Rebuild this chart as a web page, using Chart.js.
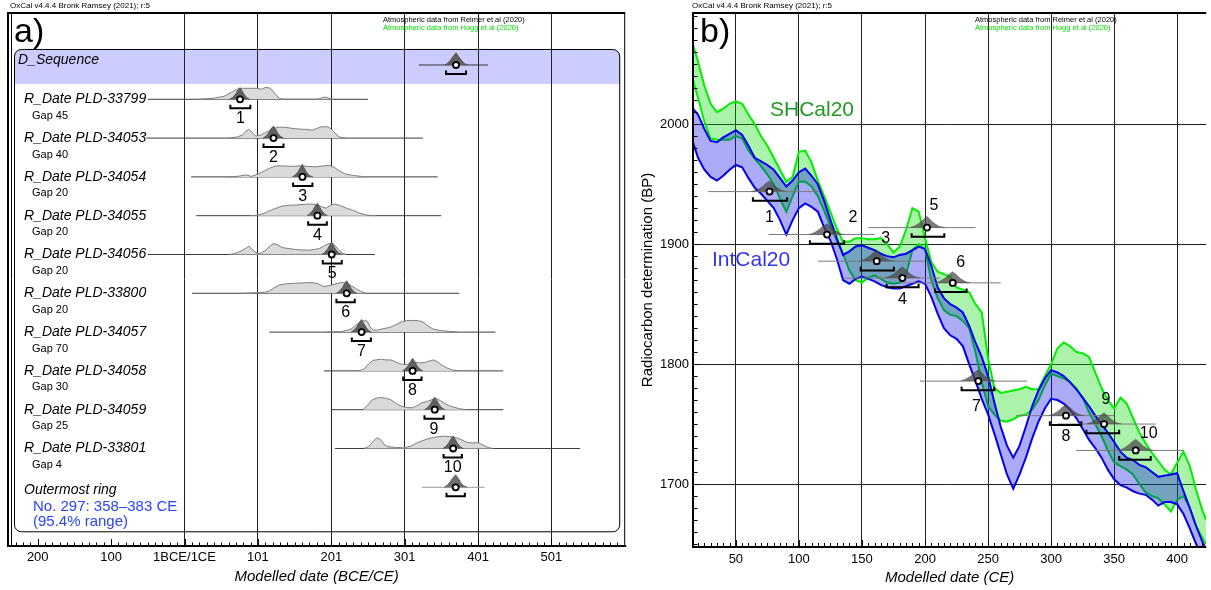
<!DOCTYPE html>
<html><head><meta charset="utf-8">
<script src="https://cdn.jsdelivr.net/npm/chart.js@4.4.1/dist/chart.umd.min.js"></script>
<style>
html,body{margin:0;padding:0;background:#fff;overflow:hidden;width:1211px;height:590px}
#ca{position:absolute;left:0;top:0}
#cb{position:absolute;left:630px;top:0}
</style></head><body>
<canvas id="ca" width="630" height="590"></canvas>
<canvas id="cb" width="581" height="590"></canvas>
<script>
// ================= Panel a) data =================
const rowNames = ['R_Date PLD-33799','R_Date PLD-34053','R_Date PLD-34054','R_Date PLD-34055','R_Date PLD-34056',
                  'R_Date PLD-33800','R_Date PLD-34057','R_Date PLD-34058','R_Date PLD-34059','R_Date PLD-33801'];
const gapLabels = ['Gap 45','Gap 40','Gap 20','Gap 20','Gap 20','Gap 20','Gap 70','Gap 30','Gap 25','Gap 4'];

// likelihoods [calendar year CE, relative probability]
const lik1 = [[20,0],[40,1],[55,3],[65,7],[72,10],[80,11],[90,11],[100,11],[106,10],[112,12],[118,11],[124,6],[130,1],[136,0],[182,0],[188,1.5],[193,2.2],[198,1],[203,0]];
const lik2 = [[62,0],[72,1],[80,3],[85,7],[89,8.7],[94,5],[98,2],[105,3],[110,5],[116,7],[122,9.5],[130,11],[139,10.7],[152,9.3],[166,8.7],[175,8],[181,9.5],[187,11.3],[196,11.3],[200,9.5],[205,6],[211,1.3],[220,0]];
const lik3 = [[60,0],[75,0.7],[85,2],[92,0.5],[100,2.5],[110,6],[118,9],[126,11],[135,11],[148,10.5],[160,11],[170,10.5],[180,10],[190,11],[198,11.5],[205,9.5],[212,6],[220,3],[230,1.5],[248,0]];
const lik4 = [[90,0],[100,0.5],[108,2],[116,4.5],[124,7],[134,9.7],[145,10.5],[153,10.7],[165,11.3],[172,11.7],[180,11],[188,9],[194,7.5],[200,10.5],[205,11.7],[212,10.5],[222,7.5],[230,5.5],[240,2.5],[250,0.5],[262,0]];
const lik5 = [[62,0],[70,1],[78,3.5],[84,6],[89,8.3],[94,4.5],[100,1],[106,1.5],[112,4.5],[118,9],[123,11],[128,9.5],[134,7],[142,6],[152,5],[162,4.5],[171,4.3],[178,5],[185,6],[192,9],[198,11],[205,10],[211,4.5],[216,1.5],[221,0]];
const lik6 = [[80,0],[95,0.5],[110,1],[116,2],[122,5],[130,8.3],[140,9.5],[152,10],[165,10.5],[175,10.7],[183,9.5],[191,6.7],[197,7.5],[203,8.5],[210,10],[216,11],[225,9],[234,5],[241,2],[248,0]];
const lik7 = [[195,0],[215,0.5],[228,3],[235,7],[240,10],[246,11.5],[250,11],[254,5],[258,2],[264,2],[272,3.5],[280,4.5],[288,7],[296,10],[304,11.5],[312,11.7],[320,11.3],[326,10],[333,6],[340,3],[350,1.5],[362,0.7],[372,0]];
const lik8 = [[238,0],[246,2],[252,7],[258,10.5],[268,11.7],[275,11],[282,11],[290,8.5],[298,6.5],[305,6.5],[312,9],[320,8],[328,8.3],[335,10],[340,11],[346,9],[352,5.5],[360,2.5],[366,1],[375,0]];
const lik9 = [[244,0],[250,4],[256,9.5],[262,11.5],[268,12.3],[275,11.5],[282,10],[290,6],[297,3.3],[305,2],[312,2],[318,4],[324,6.7],[332,8.3],[338,10],[344,11],[350,9],[356,6],[362,4],[368,2.5],[376,1],[384,0]];
const lik10 = [[246,0],[252,2],[258,7],[263,10.7],[268,9],[273,4],[278,1.7],[290,1],[300,0.7],[310,2.5],[318,5.7],[326,8],[334,10],[340,11],[348,12],[355,12.3],[362,12],[370,11],[378,9],[386,6],[394,5.5],[400,6],[404,5],[410,2.5],[416,0.7],[422,0]];

// modelled (posterior) distributions [calendar year CE, relative probability]
const post1 = [[62,0],[67,2],[71,5.5],[74,9.5],[76.7,11.7],[79,9],[82,5],[86,1.5],[90,0]];
const post2 = [[108,0],[112,2],[116,5.5],[119,9.5],[122.3,12],[125,9],[128,5],[132,1.5],[136,0]];
const post3 = [[148,0],[152,2],[156,5.5],[159,9.5],[161.7,12.5],[164,9],[167,5],[171,1.5],[176,0]];
const post4 = [[168,0],[172,2],[176,5.5],[179,9.5],[182.1,12.5],[185,9],[188,5],[192,1.5],[196,0]];
const post5 = [[188,0],[192,2],[196,5.5],[199,9.5],[201.6,12.5],[204,9],[207,5],[211,1.5],[216,0]];
const post6 = [[208,0],[212,2],[216,5.5],[219,9.5],[222,12.5],[225,9],[228,5],[232,1.5],[236,0]];
const post7 = [[228,0],[232,2],[236,5.5],[239,9.5],[242.3,12.5],[245,9],[248,5],[252,1.5],[256,0]];
const post8 = [[298,0],[302,2],[306,5.5],[309,9.5],[311.8,12.5],[315,9],[318,5],[322,1.5],[326,0]];
const post9 = [[328,0],[332,2],[336,5.5],[339,9.5],[342,12.5],[345,9],[348,5],[352,1.5],[356,0]];
const post10 = [[353,0],[357,2],[361,5.5],[364,9.5],[367.1,12.5],[370,9],[373,5],[377,1.5],[381,0]];
const postOuter = [[355,0],[359,2],[363,5.5],[367,9.5],[370.5,12.5],[374,9],[377,5],[381,1.5],[386,0]];
const postSeq = [[356,0],[360,2],[364,5.5],[368,9.5],[371,12],[374,9],[378,5],[382,1.5],[387,0]];

const meanYears    = [76.7,122.3,161.7,182.1,201.6,222,242.3,311.8,342,367.1];
const range95Start = [63.5,108.7,149,169.5,189.4,208,229,299,328,354];
const range95End   = [90.7,135.9,175.3,194.9,215.3,233,255,324,354,379];
const fullStart    = [-49,-51,10,16.9,-49,11.2,116.5,191,200.7,206];
const fullEnd      = [251,325.7,346,350.6,260.5,375.3,424.6,435.4,435.4,540.1];
const outerStats = [370.5, 358, 383, 324.4, 410];   // mean, 95% from, 95% to, full from, full to
const seqStats   = [371, 357.4, 384.6, 320.3, 414.5];

const leftTickValues = [-199,-99,1,101,201,301,401,501];
const leftTickLabels = ['200','100','1BCE/1CE','101','201','301','401','501'];

// ================= Panel b) data =================
const curveYears = [15,20,25,30,35,40,45,50,55,60,65,70,75,80,85,90,95,100,105,110,115,120,125,130,135,140,145,150,155,160,165,170,175,180,185,190,195,200,205,210,215,220,225,230,235,240,245,250,255,260,265,270,275,280,285,290,295,300,305,310,315,320,325,330,335,340,345,350,355,360,365,370,375,380,385,390,395,400,405,410,415,420,423];
const intcalUpper = [2014,2008,1996,1986,1985,1989,1992,1995,1991,1982,1972,1969,1966,1962,1955,1948,1953,1960,1963,1957,1950,1936,1920,1905,1891,1894,1898,1899,1897,1895,1892,1890,1889,1891,1892,1895,1898,1896,1882,1864,1855,1850,1847,1843,1832,1818,1806,1790,1768,1748,1732,1722,1732,1748,1765,1778,1788,1795,1793,1790,1785,1779,1772,1765,1757,1750,1743,1735,1727,1722,1720,1716,1714,1710,1706,1707,1708,1709,1694,1680,1665,1652,1645];
const intcalLower = [1988,1972,1962,1956,1953,1957,1962,1966,1964,1955,1947,1942,1936,1930,1920,1908,1920,1930,1934,1931,1927,1914,1903,1888,1870,1867,1871,1873,1871,1869,1866,1864,1863,1863,1865,1867,1869,1867,1856,1842,1830,1824,1821,1815,1800,1786,1771,1758,1742,1725,1708,1696,1708,1722,1738,1752,1763,1771,1770,1767,1762,1755,1746,1737,1730,1722,1712,1704,1699,1697,1694,1692,1691,1687,1682,1685,1685,1683,1675,1663,1650,1640,1633];
const shcalUpper = [2070,2052,2032,2017,2010,2013,2017,2019,2017,2008,2000,1990,1982,1972,1962,1952,1956,1977,1978,1968,1953,1940,1927,1913,1902,1902,1905,1905,1904,1904,1905,1900,1893,1898,1912,1930,1927,1905,1885,1877,1875,1873,1864,1862,1860,1850,1843,1805,1780,1776,1777,1778,1779,1781,1779,1779,1790,1800,1813,1818,1815,1810,1809,1806,1793,1780,1770,1763,1772,1767,1755,1743,1734,1726,1719,1712,1708,1718,1727,1715,1695,1678,1670];
const shcalLower = [2040,2022,2002,1988,1987,1987,1987,1990,1988,1978,1971,1965,1958,1950,1938,1927,1940,1952,1952,1948,1940,1928,1915,1903,1892,1878,1870,1868,1872,1874,1871,1868,1867,1868,1875,1895,1900,1896,1870,1855,1845,1841,1840,1836,1830,1810,1785,1765,1758,1753,1752,1754,1757,1758,1762,1770,1782,1792,1790,1788,1785,1780,1772,1760,1750,1740,1728,1718,1715,1712,1708,1700,1693,1690,1688,1683,1677,1687,1690,1680,1665,1655,1650];

const rcBP        = [1943.8,1908,1885.8,1871.7,1913.8,1867.7,1785.8,1757,1750,1728];
const rcLineStart = [28,76,115,135,155,180,196,272,305,320];
const rcLineEnd   = [116,160,200,212,240,260,281,350,383,405];
const rightTickX = [50,100,150,200,250,300,350,400];
const rightTickY = [1700,1800,1900,2000];

// ================= styling / layout =================
const FONT = '"Liberation Sans", Arial, Helvetica, sans-serif';
const liks = [lik1,lik2,lik3,lik4,lik5,lik6,lik7,lik8,lik9,lik10];
const posts = [post1,post2,post3,post4,post5,post6,post7,post8,post9,post10];
const ROWPX = 38.8;          // pixels per row (left panel)
const KL = 1/ROWPX;          // row units per density unit
const SEQ_ROW = 0.116, OUTER_ROW = 11;
const rightLabelOffsets = [[0,26],[26,-17],[9,-23],[0,22],[7,-22],[8,-20],[-2,25],[0,21],[2,-24],[13,-17]];

function ln(points, color, width, order, extra) {
  return Object.assign({data: points, borderColor: color, borderWidth: width, pointRadius: 0, pointHoverRadius: 0,
    fill: false, tension: 0, order: order}, extra || {});
}
function dot(x, y, order) {
  return {data: [{x: x, y: y}], showLine: false, pointRadius: 3, pointHoverRadius: 3, pointBackgroundColor: '#fff',
    pointBorderColor: '#000', pointBorderWidth: 1.8, order: order};
}

// ---------- left datasets ----------
const leftDatasets = [];
function addLeftRow(row, lik, post, st, postFill, lineCol) {
  const [mean, b0, b1, f0, f1] = st;
  leftDatasets.push(ln([{x: f0, y: row}, {x: f1, y: row}], lineCol, 1, 7));
  if (lik) leftDatasets.push(ln(lik.map(p => ({x: p[0], y: row - p[1]*KL})), '#7e7e7e', 1, 6,
      {fill: {value: row}, backgroundColor: '#dadada'}));
  leftDatasets.push(ln(post.map(p => ({x: p[0], y: row - p[1]*KL})), '#4a4a4a', 0.8, 5,
      {fill: {value: row}, backgroundColor: postFill}));
  const by = row + 9*KL, bt = row + 5.5*KL;
  leftDatasets.push(ln([{x: b0, y: bt}, {x: b0, y: by}, {x: b1, y: by}, {x: b1, y: bt}], '#000', 2, 4));
  leftDatasets.push(dot(mean, row, 3));
}
addLeftRow(SEQ_ROW, null, postSeq, seqStats, '#606060', '#333');
for (let k = 0; k < 10; k++) {
  addLeftRow(k+1, liks[k], posts[k], [meanYears[k], range95Start[k], range95End[k], fullStart[k], fullEnd[k]], '#606060', '#3c3c3c');
}
addLeftRow(OUTER_ROW, null, postOuter, outerStats, '#707070', '#9a9a9a');

const leftPlugin = {
  id: 'leftDeco',
  beforeDraw(chart) {
    const ctx = chart.ctx, ca = chart.chartArea, ys = chart.scales.y;
    const top = ys.getPixelForValue(SEQ_ROW) - 16, bandBot = ys.getPixelForValue(SEQ_ROW) + 19;
    ctx.save();
    ctx.fillStyle = '#ccccff';
    ctx.beginPath();
    ctx.roundRect(ca.left + 6, top, ca.right - ca.left - 11, bandBot - top, [7, 7, 0, 0]);
    ctx.fill();
    ctx.restore();
  },
  afterDraw(chart) {
    const ctx = chart.ctx, ca = chart.chartArea, xs = chart.scales.x, ys = chart.scales.y;
    ctx.save();
    // group box
    const top = ys.getPixelForValue(SEQ_ROW) - 16;
    const bot = ys.getPixelForValue(OUTER_ROW) + 44;
    ctx.strokeStyle = '#000'; ctx.lineWidth = 1;
    ctx.beginPath(); ctx.roundRect(ca.left + 6.5, top + 0.5, ca.right - ca.left - 12, bot - top, 7); ctx.stroke();
    // frame
    ctx.lineWidth = 2;
    ctx.beginPath();
    ctx.moveTo(ca.left, ca.bottom); ctx.lineTo(ca.left, ca.top); ctx.lineTo(ca.right, ca.top);
    ctx.moveTo(ca.left - 1, ca.bottom); ctx.lineTo(ca.right + 1, ca.bottom);
    ctx.stroke();
    ctx.lineWidth = 1;
    ctx.beginPath(); ctx.moveTo(ca.left + 3.5, ca.top); ctx.lineTo(ca.left + 3.5, ca.bottom);
    ctx.moveTo(ca.right - 0.5, ca.top); ctx.lineTo(ca.right - 0.5, ca.bottom); ctx.stroke();
    // ticks every 10 years, major every 100
    ctx.beginPath();
    for (let v = -229; v <= 601; v += 10) {
      const x = Math.round(xs.getPixelForValue(v)) + 0.5;
      if (x <= ca.left + 2 || x >= ca.right) continue;
      const major = leftTickValues.includes(v);
      ctx.moveTo(x, ca.bottom); ctx.lineTo(x, ca.bottom - (major ? 7 : 3.5));
    }
    ctx.stroke();
    // header texts
    ctx.fillStyle = '#000'; ctx.textBaseline = 'middle'; ctx.textAlign = 'left';
    ctx.font = '8px ' + FONT;
    ctx.fillText('OxCal v4.4.4 Bronk Ramsey (2021); r:5', 10, 6);
    ctx.font = '7.5px ' + FONT;
    ctx.fillText('Atmospheric data from Reimer et al (2020)', 383, 20);
    ctx.fillStyle = '#00dd00';
    ctx.fillText('Atmospheric data from Hogg et al (2020)', 383, 27.5);
    ctx.fillStyle = '#000';
    ctx.textBaseline = 'alphabetic';
    ctx.font = '34px ' + FONT;
    ctx.fillText('a)', 14, 42);
    ctx.textBaseline = 'middle';
    ctx.font = 'italic 14px ' + FONT;
    ctx.fillText('D_Sequence', 18, ys.getPixelForValue(SEQ_ROW) - 5);
    for (let k = 0; k < 10; k++) {
      const y = ys.getPixelForValue(k + 1);
      ctx.textAlign = 'left';
      ctx.font = 'italic 14px ' + FONT;
      ctx.fillText(rowNames[k], 24, y);
      ctx.font = '11px ' + FONT;
      ctx.fillText(gapLabels[k], 32, y + 16.5);
      ctx.textAlign = 'center';
      ctx.font = '16px ' + FONT;
      ctx.fillText(String(k + 1), xs.getPixelForValue((range95Start[k] + range95End[k]) / 2), y + 19.5);
    }
    const yo = ys.getPixelForValue(OUTER_ROW);
    ctx.textAlign = 'left';
    ctx.font = 'italic 14px ' + FONT;
    ctx.fillText('Outermost ring', 24, yo + 3);
    ctx.fillStyle = '#2a44ff';
    ctx.font = '15px ' + FONT;
    ctx.fillText('No. 297: 358\u2013383 CE', 33, yo + 20);
    ctx.fillText('(95.4% range)', 33, yo + 35);
    ctx.restore();
  }
};

new Chart(document.getElementById('ca'), {
  type: 'line',
  data: {datasets: leftDatasets},
  options: {
    responsive: false, animation: false, events: [],
    layout: {padding: {left: 8, top: 13, right: 3, bottom: 0}},
    plugins: {legend: {display: false}, tooltip: {enabled: false}},
    scales: {
      x: {type: 'linear', min: -239.5, max: 601.5,
        afterFit: s => { s.height = 44; },
        afterBuildTicks: s => { s.ticks = leftTickValues.map(v => ({value: v})); },
        ticks: {autoSkip: false, maxRotation: 0, padding: 4, color: '#000', font: {family: FONT, size: 13},
          callback: v => leftTickLabels[leftTickValues.indexOf(v)]},
        grid: {drawTicks: false, lineWidth: 1, color: c => (c.tick && c.tick.value >= 1) ? '#222' : 'rgba(0,0,0,0)'},
        border: {display: false},
        title: {display: true, text: 'Modelled date (BCE/CE)', color: '#000',
          font: {family: FONT, size: 15, style: 'italic'}, padding: {top: 0, bottom: 4}}
      },
      y: {type: 'linear', min: -1.224, max: 12.513, reverse: true, display: false}
    }
  },
  plugins: [leftPlugin]
});

// ---------- right datasets ----------
const KR = 0.75;  // BP units per density unit
const rightDatasets = [];
rightDatasets.push(ln(curveYears.map((y, i) => ({x: y, y: shcalUpper[i]})), '#00ee00', 2, 20));
rightDatasets.push(ln(curveYears.map((y, i) => ({x: y, y: shcalLower[i]})), '#00ee00', 2, 21,
  {fill: '-1', backgroundColor: 'rgba(0,220,0,0.33)'}));
rightDatasets.push(ln(curveYears.map((y, i) => ({x: y, y: intcalUpper[i]})), '#0000ee', 2, 18));
rightDatasets.push(ln(curveYears.map((y, i) => ({x: y, y: intcalLower[i]})), '#0000ee', 2, 19,
  {fill: '-1', backgroundColor: 'rgba(0,0,230,0.33)'}));
for (let k = 0; k < 10; k++) {
  const bp = rcBP[k];
  rightDatasets.push(ln([{x: rcLineStart[k], y: bp}, {x: rcLineEnd[k], y: bp}], '#7a7a7a', 1, 9));
  rightDatasets.push(ln(posts[k].map(p => ({x: p[0], y: bp + p[1]*KR})), 'rgba(60,60,60,0.6)', 0.6, 8,
    {fill: {value: bp}, backgroundColor: 'rgba(70,70,70,0.72)'}));
  const by = bp - 7.7, bt = bp - 4.7;
  rightDatasets.push(ln([{x: range95Start[k], y: bt}, {x: range95Start[k], y: by}, {x: range95End[k], y: by}, {x: range95End[k], y: bt}], '#000', 2, 7));
  rightDatasets.push(dot(meanYears[k], bp, 6));
}

const rightPlugin = {
  id: 'rightDeco',
  afterDraw(chart) {
    const ctx = chart.ctx, ca = chart.chartArea, xs = chart.scales.x, ys = chart.scales.y;
    ctx.save();
    ctx.strokeStyle = '#000';
    ctx.lineWidth = 2;
    ctx.beginPath();
    ctx.moveTo(ca.left, ca.bottom); ctx.lineTo(ca.left, ca.top); ctx.lineTo(ca.right, ca.top);
    ctx.moveTo(ca.left - 1, ca.bottom); ctx.lineTo(ca.right, ca.bottom);
    ctx.stroke();
    ctx.lineWidth = 1;
    ctx.beginPath();
    for (let v = 20; v <= 420; v += 5) {
      const x = Math.round(xs.getPixelForValue(v)) + 0.5;
      ctx.moveTo(x, ca.bottom); ctx.lineTo(x, ca.bottom - (v % 50 === 0 ? 7 : 4));
    }
    for (let v = 1650; v <= 2090; v += 10) {
      const y = Math.round(ys.getPixelForValue(v)) + 0.5;
      ctx.moveTo(ca.left, y); ctx.lineTo(ca.left + (v % 100 === 0 ? 7 : 4.5), y);
    }
    ctx.stroke();
    // header texts
    ctx.fillStyle = '#000'; ctx.textBaseline = 'middle'; ctx.textAlign = 'left';
    ctx.font = '8px ' + FONT;
    ctx.fillText('OxCal v4.4.4 Bronk Ramsey (2021); r:5', 62, 6);
    ctx.font = '7.5px ' + FONT;
    ctx.fillText('Atmospheric data from Reimer et al (2020)', 345, 20);
    ctx.fillStyle = '#00dd00';
    ctx.fillText('Atmospheric data from Hogg et al (2020)', 345, 27.5);
    ctx.fillStyle = '#000';
    ctx.textBaseline = 'alphabetic';
    ctx.font = '34px ' + FONT;
    ctx.fillText('b)', 70, 42);
    ctx.textBaseline = 'middle';
    ctx.font = '21px ' + FONT;
    ctx.fillStyle = '#229922';
    ctx.fillText('SHCal20', 140, 110);
    ctx.fillStyle = '#3333ee';
    ctx.fillText('IntCal20', 82, 260);
    ctx.fillStyle = '#000';
    ctx.textAlign = 'center';
    ctx.font = '16px ' + FONT;
    for (let k = 0; k < 10; k++) {
      const x = xs.getPixelForValue(meanYears[k]) + rightLabelOffsets[k][0];
      const y = ys.getPixelForValue(rcBP[k]) + rightLabelOffsets[k][1];
      ctx.fillText(String(k + 1), x, y);
    }
    ctx.restore();
  }
};

new Chart(document.getElementById('cb'), {
  type: 'line',
  data: {datasets: rightDatasets},
  options: {
    responsive: false, animation: false, events: [],
    layout: {padding: {left: 0, top: 13, right: 0, bottom: 0}},
    plugins: {legend: {display: false}, tooltip: {enabled: false}},
    scales: {
      x: {type: 'linear', min: 16, max: 423,
        afterFit: s => { s.height = 43; },
        afterBuildTicks: s => { s.ticks = rightTickX.map(v => ({value: v})); },
        ticks: {autoSkip: false, maxRotation: 0, padding: 5, color: '#000', font: {family: FONT, size: 13},
          callback: v => String(v)},
        grid: {drawTicks: false, lineWidth: 1, color: '#222'},
        border: {display: false},
        title: {display: true, text: 'Modelled date (CE)', color: '#000',
          font: {family: FONT, size: 15, style: 'italic'}, padding: {top: 0, bottom: 3}}
      },
      y: {type: 'linear', min: 1647.5, max: 2092.7,
        afterFit: s => { s.width = 63; },
        afterBuildTicks: s => { s.ticks = rightTickY.map(v => ({value: v})); },
        ticks: {autoSkip: false, padding: 4, color: '#000', font: {family: FONT, size: 13},
          callback: v => String(v)},
        grid: {drawTicks: false, lineWidth: 1, color: '#222'},
        border: {display: false},
        title: {display: true, text: 'Radiocarbon determination (BP)', color: '#000',
          font: {family: FONT, size: 15}, padding: {top: 9, bottom: 0}}
      }
    }
  },
  plugins: [rightPlugin]
});
</script>
</body></html>
